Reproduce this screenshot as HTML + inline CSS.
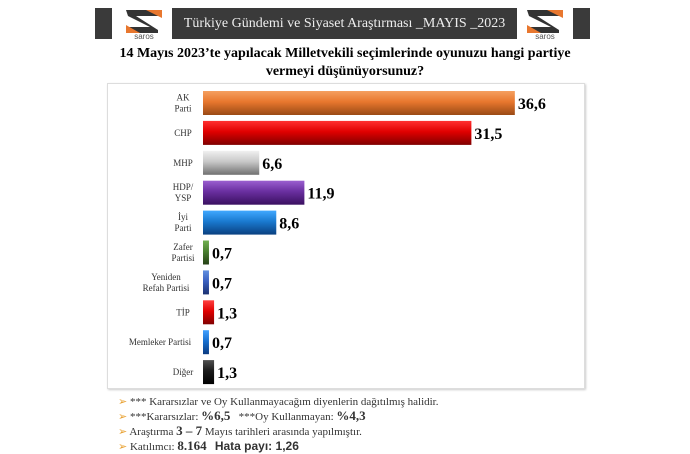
<!DOCTYPE html>
<html><head><meta charset="utf-8"><style>
body{margin:0;width:690px;height:450px;background:#fff;position:relative;overflow:hidden;font-family:"Liberation Serif",serif}
.abs{position:absolute}
</style></head><body>
<div class="abs" style="left:95px;top:8px;width:17px;height:31px;background:#3a3a3a"></div>
<div class="abs" style="left:172px;top:8px;width:345px;height:31px;background:#3a3a3a;color:#eee;font-size:14px;line-height:31px;text-align:center">Türkiye Gündemi ve Siyaset Araştırması _MAYIS _2023</div>
<div class="abs" style="left:573px;top:8px;width:17px;height:31px;background:#3a3a3a"></div>
<svg class="abs" style="left:122px;top:8px" width="44" height="32"><polygon points="4,2 40,2 40,8 14,8 36,22 36,25 4,25 4,19 28,19 6,8" fill="#333"/><polygon points="24,2 40,2 40,10" fill="#e8772e"/><polygon points="4,25 18,25 4,17" fill="#e8772e"/><text x="22" y="31" font-size="8" text-anchor="middle" fill="#555" font-family="Liberation Sans">saros</text></svg>
<svg class="abs" style="left:523px;top:8px" width="44" height="32"><polygon points="4,2 40,2 40,8 14,8 36,22 36,25 4,25 4,19 28,19 6,8" fill="#333"/><polygon points="24,2 40,2 40,10" fill="#e8772e"/><polygon points="4,25 18,25 4,17" fill="#e8772e"/><text x="22" y="31" font-size="8" text-anchor="middle" fill="#555" font-family="Liberation Sans">saros</text></svg>
<div class="abs" style="left:100px;top:45px;width:490px;text-align:center;font-weight:bold;font-size:14px;line-height:18px">14 Mayıs 2023’te yapılacak Milletvekili seçimlerinde oyunuzu hangi partiye<br>vermeyi düşünüyorsunuz?</div>
<div class="abs" style="left:107px;top:83px;width:476px;height:304px;border:1px solid #ddd;box-shadow:1px 1px 2px #ccc"></div>
<svg class="abs" id="chart" style="left:0;top:0" width="690" height="450">
<defs></defs></svg>
<div class="abs" style="left:118px;top:395px;font-size:11px;line-height:14px;color:#333">
<div><span style="color:#e8a030">➢</span> *** Kararsızlar ve Oy Kullanmayacağım diyenlerin dağıtılmış halidir.</div>
<div><span style="color:#e8a030">➢</span> ***Kararsızlar: <b style="font-size:13px">%6,5</b> &nbsp; ***Oy Kullanmayan: <b style="font-size:13px">%4,3</b></div>
<div><span style="color:#e8a030">➢</span> Araştırma <b style="font-size:13px">3 – 7</b> Mayıs tarihleri arasında yapılmıştır.</div>
<div><span style="color:#e8a030">➢</span> Katılımcı: <b style="font-size:13px">8.164</b> &nbsp; <b style="font-family:'Liberation Sans',sans-serif;font-size:12px">Hata payı: 1,26</b></div>
</div>
<script>
const categories=[["AK","Parti"],["CHP"],["MHP"],["HDP/","YSP"],["İyi","Parti"],["Zafer","Partisi"],["Yeniden","Refah Partisi"],["TİP"],["Memleker Partisi"],["Diğer"]];
const values=[36.6,31.5,6.6,11.9,8.6,0.7,0.7,1.3,0.7,1.3];
const valueLabels=["36,6","31,5","6,6","11,9","8,6","0,7","0,7","1,3","0,7","1,3"];
const colors=[["#f5a060","#e8772e","#9a4a15"],["#ff3030","#e00000","#800000"],["#f0f0f0","#c8c8c8","#707070"],["#9b5fd0","#6a2fa0","#3a1060"],["#40a8ff","#1a7ad0","#0a4080"],["#70b050","#4a8030","#254015"],["#6090e0","#3a60c0","#1a3070"],["#ff4040","#e00000","#800000"],["#40a0ff","#1870d0","#0a3a80"],["#505050","#1a1a1a","#000"]];
const svg=document.getElementById('chart');const NS='http://www.w3.org/2000/svg';
const x0=203,scale=8.52,y0=103,step=29.9,bh=24;
const xs=v=>v*scale, ys=i=>y0+i*step;
const defs=svg.querySelector('defs');
values.forEach((v,i)=>{
 const g=document.createElementNS(NS,'linearGradient');g.setAttribute('id','g'+i);g.setAttribute('x1','0');g.setAttribute('y1','0');g.setAttribute('x2','0');g.setAttribute('y2','1');
 [[0,0],[0.45,1],[1,2]].forEach(([o,c])=>{const s=document.createElementNS(NS,'stop');s.setAttribute('offset',o);s.setAttribute('stop-color',colors[i][c]);g.appendChild(s);});
 defs.appendChild(g);
 const r=document.createElementNS(NS,'rect');
 
 
 const w=Math.max(xs(v),5);
 r.setAttribute('x',x0);r.setAttribute('y',ys(i)-bh/2);r.setAttribute('width',w);r.setAttribute('height',bh);r.setAttribute('fill','url(#g'+i+')');
 svg.appendChild(r);
 const t=document.createElementNS(NS,'text');
 
 
 t.setAttribute('x',x0+w+3);t.setAttribute('y',ys(i)+6);t.setAttribute('font-size','16');t.setAttribute('font-weight','bold');t.setAttribute('font-family','Liberation Serif, serif');
 t.textContent=valueLabels[i];svg.appendChild(t);
 const lines=categories[i];
 const l=document.createElementNS(NS,'text');
 
 
 l.setAttribute('text-anchor','middle');l.setAttribute('font-size','9');l.setAttribute('fill','#333');l.setAttribute('font-family','Liberation Serif, serif');
 lines.forEach((s,k)=>{const sp=document.createElementNS(NS,'tspan');sp.setAttribute('x',lines.length>1&&lines[1].length>8?166:(lines[0].length>10?160:183));sp.setAttribute('y',ys(i)+3+(k-(lines.length-1)/2)*11);sp.textContent=s;l.appendChild(sp);});
 svg.appendChild(l);
});
</script>
</body></html>
